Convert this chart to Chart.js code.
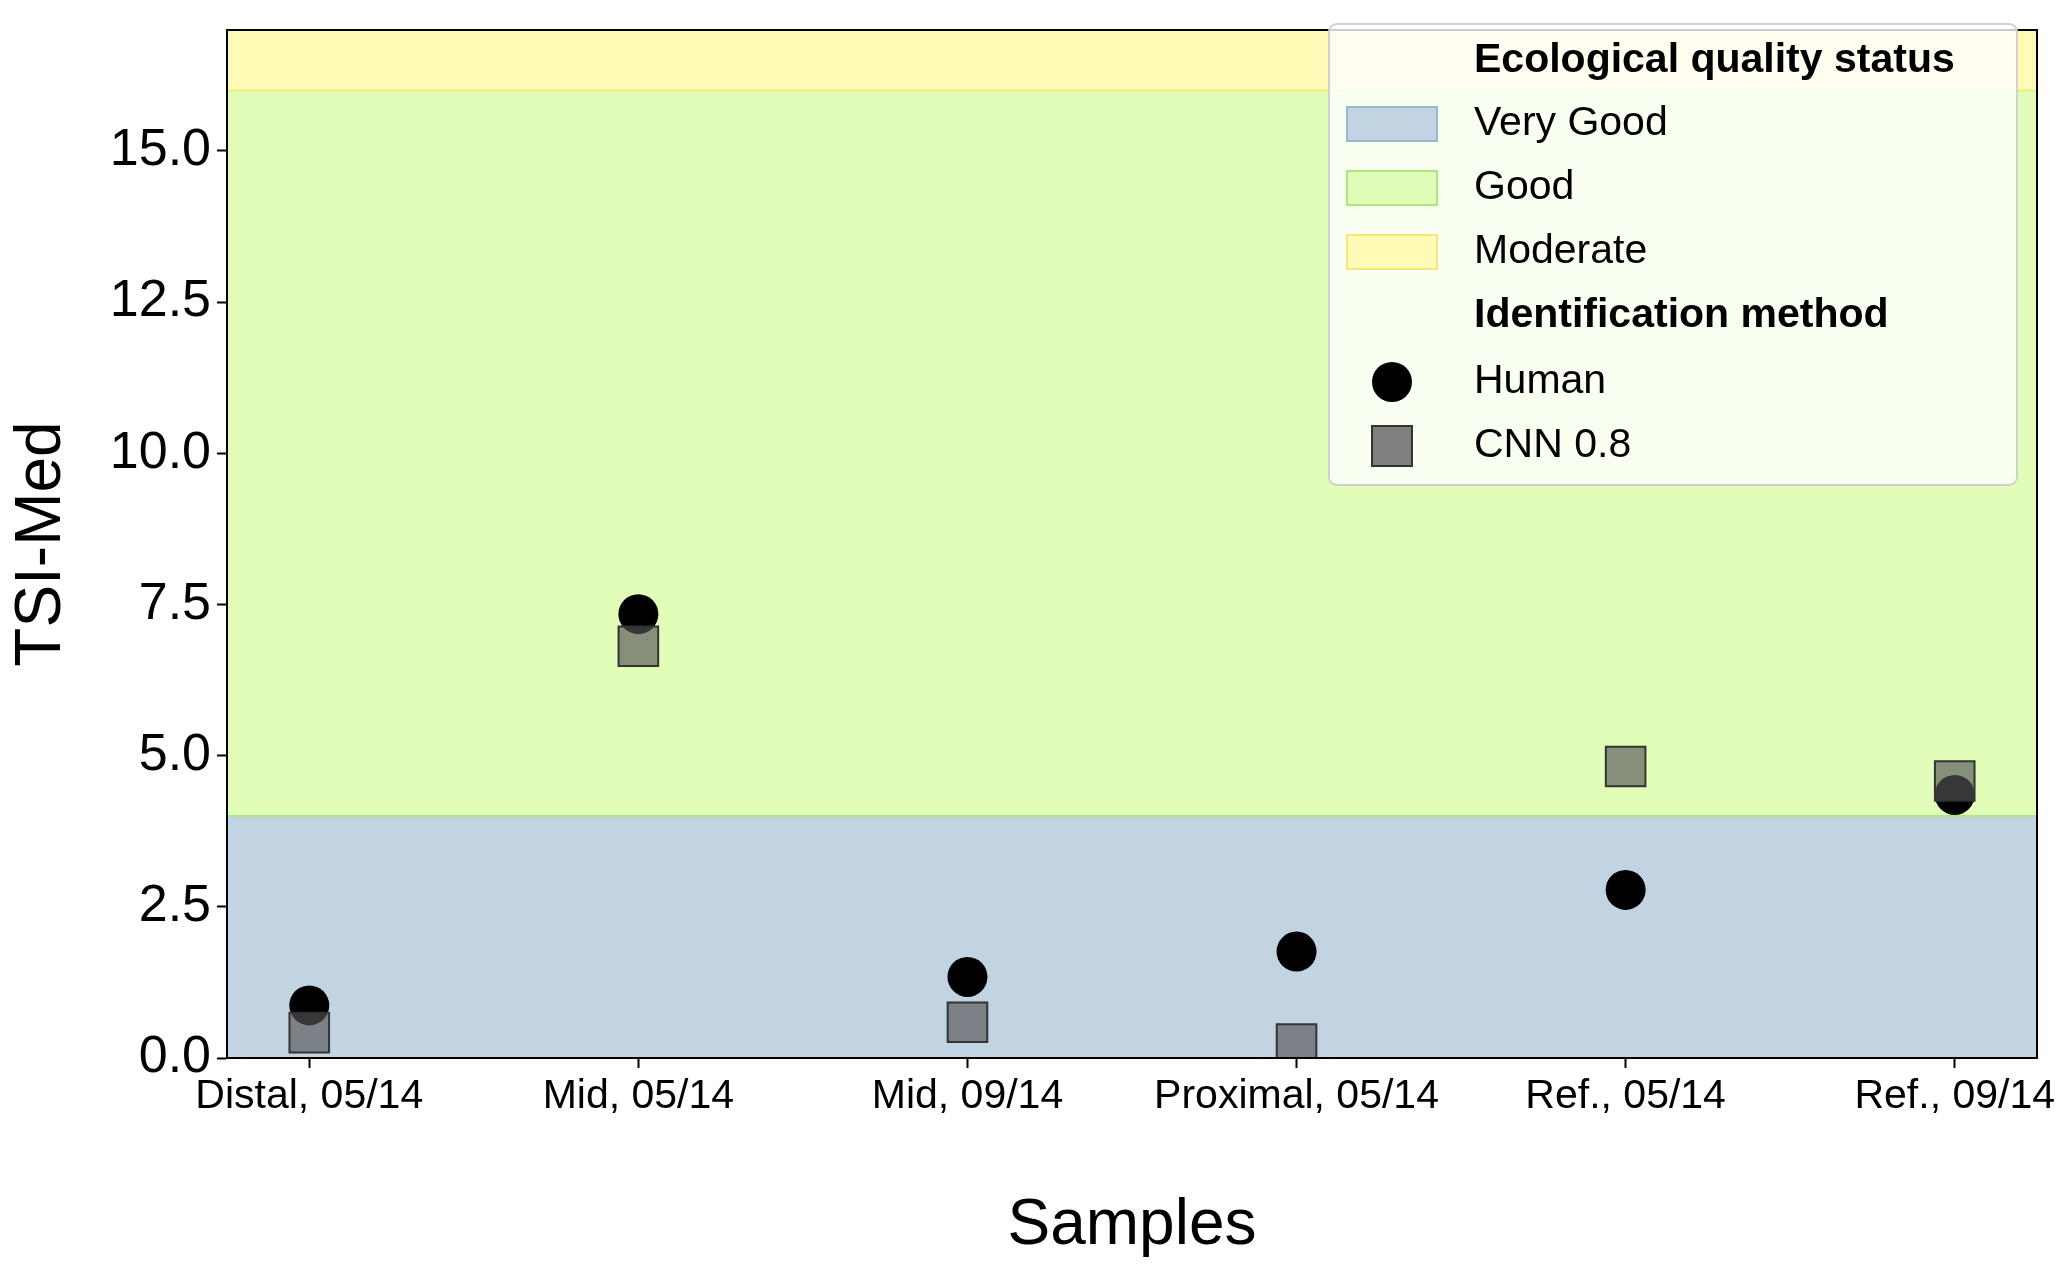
<!DOCTYPE html>
<html><head><meta charset="utf-8">
<script src="https://cdn.jsdelivr.net/npm/chart.js@4.4.0/dist/chart.umd.min.js"></script>
<style>html,body{margin:0;padding:0;background:#fff}</style>
</head><body>
<canvas id="c" width="2067" height="1269"></canvas>
<script>
const categories = ["Distal, 05/14","Mid, 05/14","Mid, 09/14","Proximal, 05/14","Ref., 05/14","Ref., 09/14"];
const humanValues = [0.87, 7.34, 1.34, 1.76, 2.78, 4.35];
const cnnValues = [0.42, 6.81, 0.59, 0.23, 4.82, 4.58];
const bandNames = ["Very Good","Good","Moderate"];
const bandLimits = [[0,4],[4,16],[16,17]];
const bandFill = ["rgba(194,212,226,1)","rgba(225,253,184,1)","rgba(255,251,182,1)"];
const bandEdge = ["rgba(150,185,210,1)","rgba(170,230,130,1)","rgba(240,235,120,1)"];
const F = "Arial, 'Liberation Sans', sans-serif";

const bands = {
  id:'bands',
  beforeDatasetsDraw(ch){
    const {ctx, chartArea:a, scales:{y}} = ch;
    ctx.save();
    bandLimits.forEach((b,i)=>{
      const y0=y.getPixelForValue(b[0]), y1=y.getPixelForValue(b[1]);
      ctx.fillStyle=bandFill[i];
      ctx.fillRect(a.left, y1, a.right-a.left, y0-y1);
    });
    ctx.lineWidth=2;
    [[4,1],[16,2]].forEach(([v,i])=>{
      const p=y.getPixelForValue(v);
      ctx.strokeStyle=bandEdge[i];
      ctx.beginPath();ctx.moveTo(a.left,p);ctx.lineTo(a.right,p);ctx.stroke();
    });
    ctx.restore();
  }
};
const legend = {
  id:'customLegend',
  afterDatasetsDraw(ch){
    const ctx=ch.ctx, a=ch.chartArea;
    ctx.save();
    ctx.strokeStyle='#000';ctx.lineWidth=2;
    ctx.strokeRect(a.left,a.top,a.right-a.left,a.bottom-a.top);
    const x0=1329,y0=24,w=688,h=461;
    ctx.fillStyle='rgba(255,255,255,0.8)';
    ctx.strokeStyle='#d0d0d0';ctx.lineWidth=2;
    ctx.beginPath();ctx.roundRect(x0,y0,w,h,8);ctx.fill();ctx.stroke();
    const rows=[61,124,188,252,316,382,446];
    ctx.textBaseline='middle';ctx.fillStyle='#000';
    ctx.font='bold 41px '+F;
    ctx.fillText('Ecological quality status',1474,rows[0]);
    ctx.fillText('Identification method',1474,rows[4]);
    ctx.font='41px '+F;
    for(let i=0;i<3;i++){
      ctx.fillStyle=bandFill[i];ctx.strokeStyle=bandEdge[i];ctx.lineWidth=2;
      ctx.fillRect(1347,rows[i+1]-17,90,34);ctx.strokeRect(1347,rows[i+1]-17,90,34);
      ctx.fillStyle='#000';ctx.fillText(bandNames[i],1474,rows[i+1]);
    }
    ctx.beginPath();ctx.arc(1392,rows[5],20,0,Math.PI*2);ctx.fill();
    ctx.fillText('Human',1474,rows[5]);
    ctx.fillStyle='rgba(85,85,85,0.75)';ctx.strokeStyle='#333';ctx.lineWidth=2;
    ctx.fillRect(1372,rows[6]-20,40,40);ctx.strokeRect(1372,rows[6]-20,40,40);
    ctx.fillStyle='#000';ctx.fillText('CNN 0.8',1474,rows[6]);
    ctx.restore();
  }
};

new Chart(document.getElementById('c'),{
  type:'scatter',
  data:{datasets:[
    {label:'CNN 0.8',data:cnnValues.map((v,i)=>({x:i,y:v})),pointStyle:'rect',pointRadius:28,pointHoverRadius:28,
     backgroundColor:'rgba(85,85,85,0.65)',borderColor:'#333',borderWidth:2},
    {label:'Human',data:humanValues.map((v,i)=>({x:i,y:v})),pointStyle:'circle',pointRadius:20,pointHoverRadius:20,
     backgroundColor:'#000',borderColor:'#000',borderWidth:0}
  ]},
  options:{
    responsive:false,devicePixelRatio:1,animation:false,
    layout:{padding:{top:3,right:27,left:0,bottom:0}},
    plugins:{legend:{display:false},tooltip:{enabled:false}},
    scales:{
      x:{type:'linear',min:-0.25,max:5.25,
        afterBuildTicks(s){s.ticks=categories.map((c,i)=>({value:i}));},
        afterFit(s){s.height=211;s.paddingLeft=0;s.paddingRight=0;},
        ticks:{callback:(v)=>categories[v],color:'#000',font:{size:41,family:F},maxRotation:0,autoSkip:false,padding:4},
        grid:{drawOnChartArea:false,tickLength:10,color:'#000',tickWidth:2},
        border:{color:'#000',width:2},
        title:{display:true,text:'Samples',color:'#000',font:{size:64,family:F},padding:{top:70}}},
      y:{min:0,max:17,
        afterBuildTicks(s){s.ticks=[0,2.5,5,7.5,10,12.5,15].map(v=>({value:v}));},
        afterFit(s){s.width=227;s.paddingTop=0;s.paddingBottom=0;},
        ticks:{callback:(v)=>v.toFixed(1),color:'#000',font:{size:52,family:F},padding:6},
        grid:{drawOnChartArea:false,tickLength:10,color:'#000',tickWidth:2},
        border:{color:'#000',width:2},
        title:{display:true,text:'TSI-Med',color:'#000',font:{size:64,family:F},padding:{bottom:4}}}
    }
  },
  plugins:[bands,legend]
});
</script>
</body></html>
